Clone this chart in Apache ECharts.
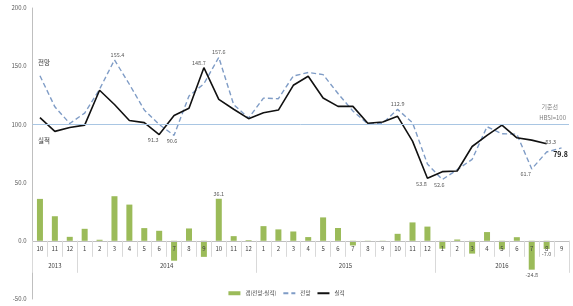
<!DOCTYPE html>
<html><head><meta charset="utf-8">
<script src="https://cdn.jsdelivr.net/npm/echarts@6/dist/echarts.min.js"></script>
<style>html,body{margin:0;padding:0;background:#fff}#c{width:573px;height:306px}</style>
</head><body><div id="c"></div>
<script>
const months = ['10','11','12','1','2','3','4','5','6','7','8','9','10','11','12','1','2','3','4','5','6','7','8','9','10','11','12','1','2','3','4','5','6','7','8','9'];
const years = ['2013','2014','2015','2016'];
const monthsInYear = [3,12,12,9];
const actual = [105.8,94.0,97.4,99.4,129.3,117.1,103.4,101.5,91.3,107.7,113.8,148.7,121.5,113.0,104.9,110.0,112.3,133.6,141.4,122.7,115.5,115.5,101.0,102.0,106.9,85.6,53.8,59.4,60.0,81.0,90.5,99.4,88.5,86.5,83.3,null];
const forecast = [141.8,115.1,100.8,109.7,130.2,155.4,134.5,112.4,99.9,90.6,124.4,134.9,157.6,117.0,105.5,122.6,122.1,141.6,144.6,142.8,126.5,111.5,100.5,101.0,112.9,101.4,66.0,52.6,61.1,70.0,98.0,92.0,91.6,61.7,76.3,79.8];
const gap = [36.0,21.1,3.4,10.3,0.9,38.3,31.1,10.9,8.6,-17.1,10.6,-13.8,36.1,4.0,0.6,12.6,9.8,8.0,3.2,20.1,11.0,-4.0,-0.5,-1.0,6.0,15.8,12.2,-6.8,1.1,-11.0,7.5,-7.4,3.1,-24.8,-7.0,null];
const yTicks = {min:-50, max:200, step:50};

const FONT = "'Noto Sans CJK KR','Noto Sans',sans-serif";
const lbl = (pos, off, extra) => Object.assign({show:true, position:pos, offset:off||[0,0], distance:2, fontSize:5.5, color:'#595959', fontFamily:FONT, formatter:p=>p.value.toFixed(1)}, extra||{});

const forecastLabels = {5:lbl('top',[3,0]), 12:lbl('top'), 9:lbl('bottom',[-2,0]), 24:lbl('top'), 27:lbl('bottom',[-3,0]), 33:lbl('bottom',[-6,0]),
  35:lbl('bottom',[-1,0],{fontSize:7,fontWeight:'bold',color:'#222'})};
const actualLabels = {11:lbl('top',[-5,0]), 8:lbl('bottom',[-6,0]), 26:lbl('bottom',[-6,0]), 34:lbl('top',[4,3])};
const gapLabels = {12:lbl('top'), 33:lbl('bottom'), 34:lbl('bottom')};
const withLabels = (arr, labels) => arr.map((v,i)=> labels[i] ? {value:v, label:labels[i]} : v);

// year axis: half-month steps
const yearAxisData = new Array(months.length*2+1).fill('');
const yearTicks = new Set([months.length*2]);
let s = 0;
years.forEach((y,k)=>{ yearTicks.add(2*s); yearAxisData[2*s+monthsInYear[k]] = y; s += monthsInYear[k]; });

// grid geometry: offset to put category axes at the zero line
const G = {left:32.5, right:4, top:8, bottom:7};
const plotH = 306 - G.top - G.bottom;
const zeroOffset = -plotH * (0 - yTicks.min) / (yTicks.max - yTicks.min);
const hiddenSymbol = {symbol:'circle', symbolSize:1, showSymbol:true, showAllSymbol:true, itemStyle:{color:'rgba(0,0,0,0)'}};

const chart = echarts.init(document.getElementById('c'), null, {renderer:'canvas'});
chart.setOption({
  animation:false,
  textStyle:{fontFamily:FONT},
  grid:Object.assign({outerBoundsMode:'none'}, G),
  legend:{bottom:5, left:'center', itemWidth:12, itemHeight:4, itemGap:6,
    textStyle:{fontSize:5.5, color:'#404040', fontFamily:FONT},
    data:[{name:'갭(전망-실적)', icon:'rect'},{name:'전망', itemStyle:{opacity:0}},{name:'실적', itemStyle:{opacity:0}}]},
  xAxis:[{
    type:'category', data:months, position:'bottom', offset:zeroOffset, z:10,
    axisLine:{onZero:false, lineStyle:{color:'#BFBFBF', width:1}},
    axisTick:{show:true, interval:0, length:16, lineStyle:{color:'#D9D9D9'}},
    axisLabel:{interval:0, fontSize:6, color:'#404040', margin:5, fontFamily:FONT}
  },{
    type:'category', data:yearAxisData, boundaryGap:false, position:'bottom', offset:zeroOffset, z:10,
    axisLine:{show:false, onZero:false},
    axisTick:{show:true, length:32, interval:(i)=>yearTicks.has(i), lineStyle:{color:'#D9D9D9'}},
    axisLabel:{interval:0, fontSize:6, color:'#404040', margin:22, fontFamily:FONT}
  }],
  yAxis:{type:'value', min:yTicks.min, max:yTicks.max, interval:yTicks.step,
    axisLine:{show:true, lineStyle:{color:'#BFBFBF'}}, axisTick:{show:false}, splitLine:{show:false},
    axisLabel:{fontSize:6, color:'#595959', margin:6, formatter:v=>v.toFixed(1), fontFamily:FONT}},
  series:[
    {name:'갭(전망-실적)', type:'bar', barWidth:6, itemStyle:{color:'#9BBB59'}, data:withLabels(gap,gapLabels), z:2},
    Object.assign({name:'전망', type:'line', clip:false, lineStyle:{color:'#7F9CC6', width:1.4, type:[5,3]},
      data:withLabels(forecast,forecastLabels), z:3,
      markLine:{silent:true, symbol:'none', label:{show:false}, lineStyle:{color:'#A9C6E3', type:'solid', width:1}, data:[{yAxis:100}]}}, hiddenSymbol),
    Object.assign({name:'실적', type:'line', clip:false, lineStyle:{color:'#111', width:1.6},
      data:withLabels(actual,actualLabels), z:4}, hiddenSymbol)
  ],
  graphic:[
    {type:'text', left:38, top:59, style:{text:'전망', fontSize:6.5, fill:'#333', fontFamily:FONT}},
    {type:'text', left:38, top:137, style:{text:'실적', fontSize:6.5, fill:'#333', fontFamily:FONT}},
    {type:'text', right:15, top:104, style:{text:'기준선', fontSize:6, fill:'#7F7F7F', fontFamily:FONT}},
    {type:'text', right:7, top:115, style:{text:'HBSI=100', fontSize:6, fill:'#7F7F7F', fontFamily:FONT}}
  ]
});
</script></body></html>
